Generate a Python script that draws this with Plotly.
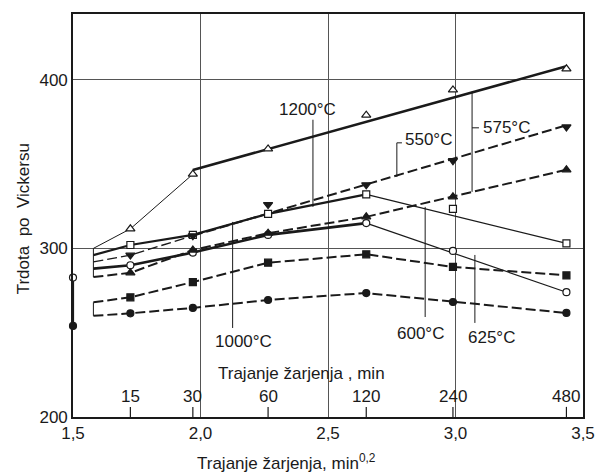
import plotly.graph_objects as go

# ---- data ----
durations = [15, 30, 60, 120, 240, 480]                 # annealing time, min
x_pos = [1.725, 1.97, 2.265, 2.65, 2.99, 3.435]          # positions as drawn, min^0.2
x_start = 1.58                                           # common start of curves
x_ticks = [1.5, 2.0, 2.5, 3.0, 3.5]
x_ticktext = ["1,5", "2,0", "2,5", "3,0", "3,5"]
y_ticks = [200, 300, 400]

# hardness values (HV) at the durations above
tri_open = [311.6, 344.0, 359.0, 379.0, 394.0, 406.5]
sq_open = [302.0, 308.0, 320.5, 332.0, 323.4, 303.0]
tri_down = [296.0, 307.5, 326.0, 337.7, 352.0, 372.0]
circ_open = [290.0, 297.5, 308.0, 315.0, 298.5, 274.0]
tri_up = [285.5, 299.0, 309.0, 318.7, 330.6, 346.6]
sq_fill = [271.0, 280.0, 291.5, 296.5, 289.0, 284.0]
circ_fill = [261.5, 264.7, 269.4, 273.5, 268.2, 261.7]

# start values of curves (no markers)
start_tri_open = 300.0
start_sq_open = 296.0
start_tri_down = 292.0
start_circ_open = 288.0
start_tri_up = 283.0
start_sq_fill = 268.0
start_circ_fill = 260.0

# straight fitted lines (value at 30 min and at 480 min)
tri_open_fit = [346.5, 408.0]
tri_down_fit = [307.5, 373.0]

# initial (as-quenched) hardness at x = 1.5
init_x = [1.5, 1.5]
init_open = 282.7
init_fill = 254.0

INK = "#1a1a1a"
FONT = "Liberation Sans"
fig = go.Figure()


def line(xs, ys, width, dash="solid"):
    fig.add_trace(go.Scatter(x=xs, y=ys, mode="lines",
                             line=dict(color=INK, width=width, dash=dash),
                             hoverinfo="skip", showlegend=False))


def marks(ys, symbol, filled, size=8):
    fig.add_trace(go.Scatter(x=x_pos, y=ys, mode="markers",
                             marker=dict(symbol=symbol, size=size,
                                         color=INK if filled else "white",
                                         line=dict(color=INK, width=1.2)),
                             showlegend=False))


DASH = "10px,4px"

# left brackets joining the starts
line([x_start, x_start], [start_tri_up, start_tri_open], 1)
line([x_start, x_start], [start_circ_fill, start_sq_fill], 1)

# 1200 °C, open triangles: thin start part, thick fitted line
line([x_start] + x_pos[:2], [start_tri_open] + tri_open[:2], 1)
line([x_pos[1], x_pos[5]], tri_open_fit, 2.6)

# open squares: thick to 120 min, thin falling part
line([x_start] + x_pos[:4], [start_sq_open] + sq_open[:4], 2.2)
line([x_pos[3], x_pos[5]], [sq_open[3], sq_open[5]], 1.2)

# open circles
line([x_start] + x_pos[:4], [start_circ_open] + circ_open[:4], 2.6)
line([x_pos[3], x_pos[5]], [circ_open[3], circ_open[5]], 1.2)

# dashed curves
line([x_start] + x_pos[:2], [start_tri_down] + tri_down[:2], 1.4, DASH)
line([x_pos[1], x_pos[5]], tri_down_fit, 2.0, DASH)
line([x_start] + x_pos, [start_tri_up] + tri_up, 2.0, DASH)
line([x_start] + x_pos, [start_sq_fill] + sq_fill, 2.0, DASH)
line([x_start] + x_pos, [start_circ_fill] + circ_fill, 2.0, DASH)

# markers
marks(tri_open, "triangle-up", False)
marks(sq_open, "square", False, 7)
marks(tri_down, "triangle-down", True)
marks(circ_open, "circle", False, 7)
marks(tri_up, "triangle-up", True)
marks(sq_fill, "square", True, 7)
marks(circ_fill, "circle", True, 7)

# initial values on the y axis
line(init_x, [init_fill, init_open], 2.2)
fig.add_trace(go.Scatter(x=init_x, y=[init_open, init_fill], mode="markers",
                         marker=dict(symbol="circle", size=7, color=["white", INK],
                                     line=dict(color=INK, width=1.2)),
                         showlegend=False, cliponaxis=False))

shapes = []
annotations = []
tf = dict(family=FONT, size=17, color=INK)

# duration scale ticks and labels (inside the plot)
for d, xp in zip(durations, x_pos):
    shapes.append(dict(type="line", xref="x", yref="y", x0=xp, x1=xp, y0=200, y1=206,
                       line=dict(color=INK, width=1.2)))
    annotations.append(dict(x=xp, y=212, xref="x", yref="y", text=str(d), showarrow=False,
                            font=tf, xanchor="center", yanchor="middle"))
annotations.append(dict(x=2.398, y=226, xref="x", yref="y", text="Trajanje žarjenja , min",
                        showarrow=False, font=tf, xanchor="center", yanchor="middle"))

# temperature labels with leader lines
leaders = [
    (2.441, 376.3, 324.6),
    (2.770, 362.6, 342.4),
    (3.065, 392.9, 333.5),
    (2.881, 324.6, 259.3),
    (3.076, 296.1, 255.8),
    (2.126, 315.7, 252.8),
]
for xl, y0, y1 in leaders:
    shapes.append(dict(type="line", xref="x", yref="y", x0=xl, x1=xl, y0=y0, y1=y1,
                       line=dict(color=INK, width=1)))
shapes.append(dict(type="line", xref="x", yref="y", x0=2.770, x1=2.790, y0=362.6, y1=362.6,
                   line=dict(color=INK, width=1)))
shapes.append(dict(type="line", xref="x", yref="y", x0=3.065, x1=3.092, y0=371.5, y1=371.5,
                   line=dict(color=INK, width=1)))

labels = [
    ("1200°C", 2.418, 382.2, "center"),
    ("550°C", 2.793, 364.4, "left"),
    ("575°C", 3.099, 371.5, "left"),
    ("600°C", 2.862, 249.3, "center"),
    ("625°C", 3.142, 246.9, "center"),
    ("1000°C", 2.169, 244.5, "center"),
]
for txt, xl, yl, anc in labels:
    annotations.append(dict(x=xl, y=yl, xref="x", yref="y", text=txt, showarrow=False,
                            font=tf, xanchor=anc, yanchor="middle"))

# axis titles
annotations.append(dict(x=0.418, y=-0.112, xref="paper", yref="paper",
                        text="Trajanje žarjenja, min<sup>0,2</sup>", showarrow=False,
                        font=tf, xanchor="center", yanchor="middle"))
annotations.append(dict(x=-0.0977, y=0.491, xref="paper", yref="paper",
                        text="Trdota\u00a0\u00a0po\u00a0\u00a0Vickersu", showarrow=False,
                        font=tf, textangle=-90, xanchor="center", yanchor="middle"))

fig.update_layout(
    width=606, height=475,
    margin=dict(l=73, r=11, t=14, b=58),
    paper_bgcolor="white", plot_bgcolor="white",
    font=dict(family=FONT, size=17, color=INK),
    shapes=shapes, annotations=annotations,
    showlegend=False,
)
fig.update_xaxes(range=[1.5, 3.5], tickvals=x_ticks, ticktext=x_ticktext,
                 showgrid=True, gridcolor="#555", gridwidth=1,
                 showline=True, linecolor=INK, linewidth=1.6, mirror=True,
                 ticks="", zeroline=False, tickfont=dict(family=FONT, size=17, color=INK))
fig.update_yaxes(range=[200, 439], tickvals=y_ticks,
                 showgrid=True, gridcolor="#555", gridwidth=1,
                 showline=True, linecolor=INK, linewidth=1.6, mirror=True,
                 ticks="", zeroline=False, tickfont=dict(family=FONT, size=17, color=INK))

fig.write_html("out.html", config={"displayModeBar": False})

# remove the default page margin so the figure fills the 606x475 window exactly
with open("out.html", encoding="utf-8") as f:
    page = f.read()
page = page.replace("<head>", "<head><style>html,body{margin:0;padding:0;overflow:hidden}</style>", 1)
with open("out.html", "w", encoding="utf-8") as f:
    f.write(page)
